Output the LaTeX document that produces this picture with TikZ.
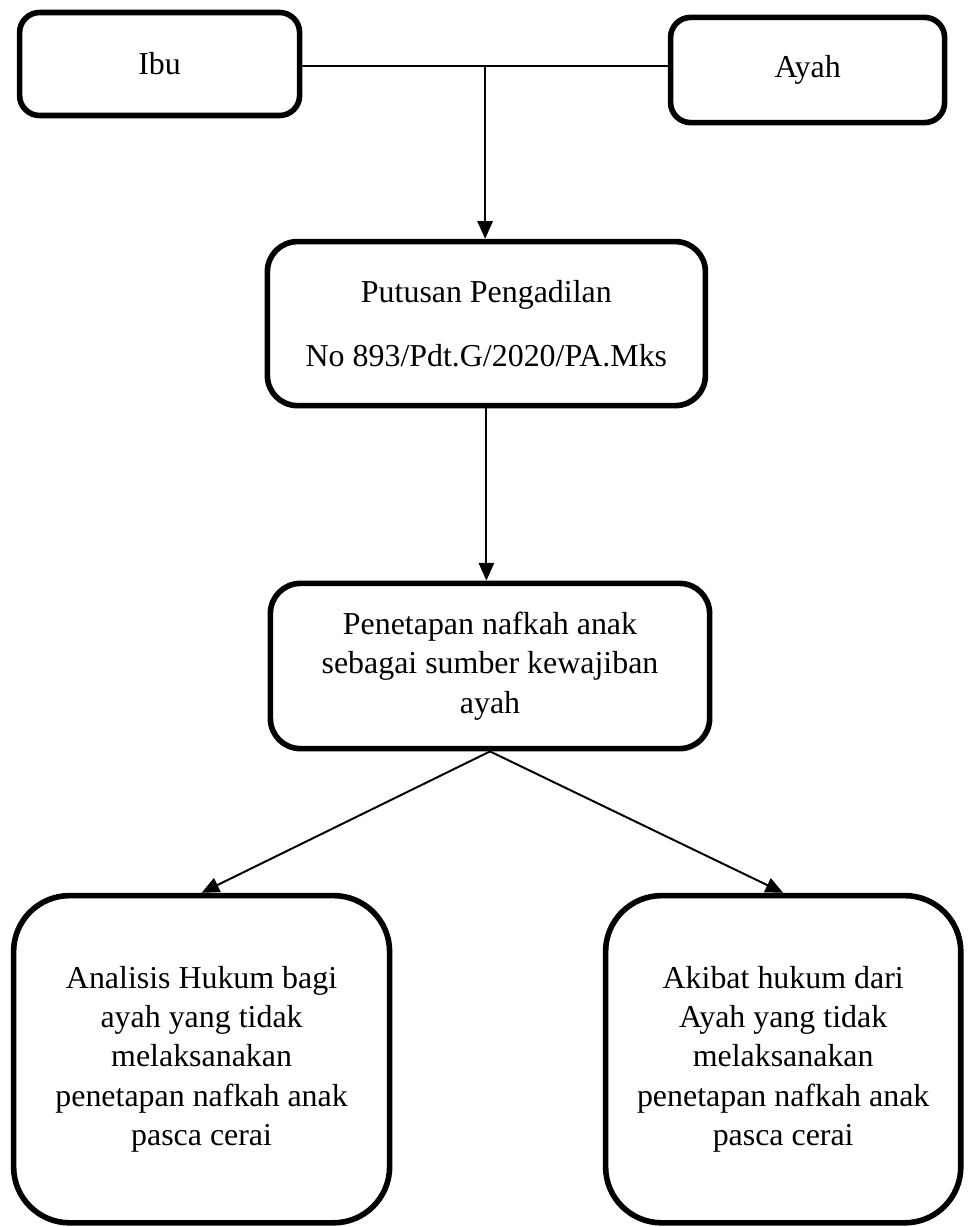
\documentclass[tikz,border=0pt]{standalone}
\usepackage{fontspec}
\setmainfont{Liberation Serif}
\usetikzlibrary{arrows.meta,calc}
\tikzset{
  box/.style={draw, line width=4pt, align=center, font=\fontsize{22.7}{28}\selectfont},
  link/.style={draw, line width=1.4pt, -{Triangle[length=0.44cm,width=0.38cm]}}
}
\begin{document}
\begin{tikzpicture}
\useasboundingbox (0,0) rectangle (24.175,-30.675);
\node[box, rounded corners=0.5cm, minimum width=7cm, minimum height=2.575cm] (ibu) at (3.99,-1.6) {Ibu};
\node[box, rounded corners=0.5cm, minimum width=6.85cm, minimum height=2.63cm] (ayah) at (20.19,-1.75) {Ayah};
\node[box, rounded corners=0.75cm, minimum width=10.95cm, minimum height=4.1cm] (putusan) at (12.16,-8.09) {Putusan Pengadilan\\[0.6cm] No 893/Pdt.G/2020/PA.Mks};
\node[box, rounded corners=0.75cm, minimum width=10.98cm, minimum height=4.13cm] (penetapan) at (12.25,-16.65) {Penetapan nafkah anak\\ sebagai sumber kewajiban\\ ayah};
\node[box, rounded corners=1.4cm, minimum width=9.4cm, minimum height=8.18cm] (analisis) at (5.04,-26.48) {Analisis Hukum bagi\\ ayah yang tidak\\ melaksanakan\\ penetapan nafkah anak\\ pasca cerai};
\node[box, rounded corners=1.4cm, minimum width=8.88cm, minimum height=8.18cm] (akibat) at (19.58,-26.48) {Akibat hukum dari\\ Ayah yang tidak\\ melaksanakan\\ penetapan nafkah anak\\ pasca cerai};

\coordinate (ibuend) at ($(ibu.east)+(0,-0.05)$);
\coordinate (ayahend) at ($(ayah.west)+(0,0.1)$);
\coordinate (join) at ($(ibuend)!0.5!(ayahend)$);
\path[draw, line width=1.4pt] (ibuend) -- (ayahend);
\path[link] (join) -- (join |- putusan.north);
\path[link] (putusan.south) -- (putusan.south |- penetapan.north);
\path[link] (penetapan.south) -- (analisis.north);
\path[link] (penetapan.south) -- (akibat.north);
\end{tikzpicture}
\end{document}
